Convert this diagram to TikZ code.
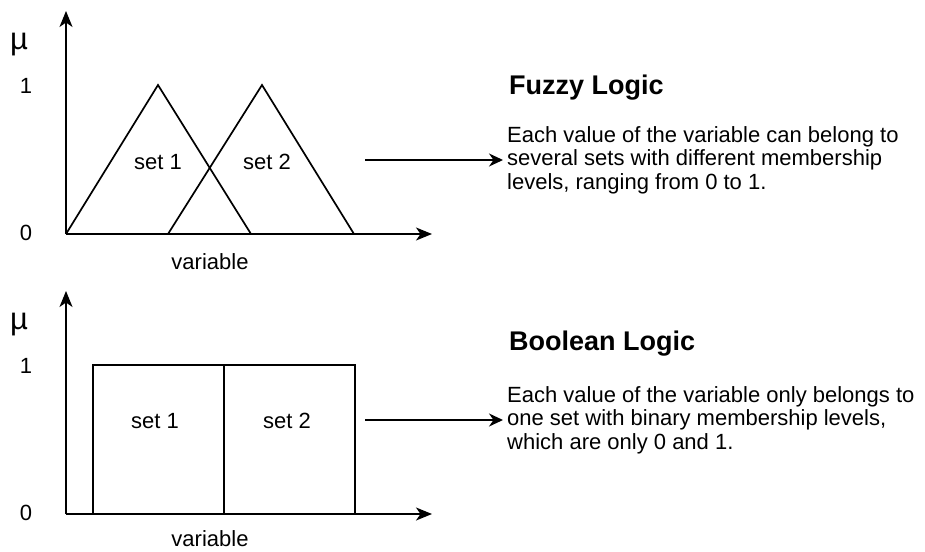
\documentclass[tikz,border=0pt]{standalone}
\usepackage{fontspec}
\setmainfont{Liberation Sans}
\usetikzlibrary{arrows.meta}
\tikzset{
  ln/.style={line width=1.7pt, line join=miter},
  axis/.style={ln, -{Stealth[length=16pt,width=13pt,inset=4.5pt]}},
  conn/.style={ln, -{Stealth[length=14pt,width=13pt,inset=4.5pt]}},
  lbl/.style={inner sep=0pt, font=\fontsize{22}{26}\selectfont},
  tick/.style={inner sep=0pt, font=\fontsize{22}{26}\selectfont},
  mu/.style={inner sep=0pt, font=\fontsize{31}{34}\selectfont},
  title/.style={inner sep=0pt, anchor=base west, font=\bfseries\fontsize{27}{31}\selectfont},
  desc/.style={inner ysep=0pt, inner xsep=4pt, anchor=west, align=left, font=\fontsize{22}{23.5}\selectfont}
}
\begin{document}
\begin{tikzpicture}[x=1pt,y=-1pt]
\useasboundingbox[fill=white] (0,0) rectangle (925,551);
% ---------- Fuzzy ----------
\coordinate (o1) at (66,234);
\coordinate (ytop1) at (66,11);
\coordinate (xend1) at (432,234);
\draw[axis] (o1) -- (ytop1);
\draw[axis] (o1) -- (xend1);
\coordinate (a1) at (66,234); \coordinate (p1) at (158,85); \coordinate (b1) at (251,234);
\coordinate (a2) at (168,234); \coordinate (p2) at (262,85); \coordinate (b2) at (354,234);
\draw[ln] (a1) -- (p1) -- (b1);
\draw[ln] (a2) -- (p2) -- (b2);
\node[lbl] (s1f) at (158,162) {set 1};
\node[lbl] (s2f) at (267,162) {set 2};
\node[mu] (muf) at (19,45) {µ};
\node[tick] (onef) at (26,86) {1};
\node[tick] (zerof) at (26,233) {0};
\node[lbl] (varf) at (210,262) {variable};
\node[title] (tf) at (509,94) {Fuzzy Logic};
\node[desc] (df) at (503,160) {Each value of the variable can belong to\\several sets with different membership\\levels, ranging from 0 to 1.};
\coordinate (cf) at (365,160);
\draw[conn] (cf) -- (df.west);
% ---------- Boolean ----------
\coordinate (o2) at (66,514);
\coordinate (ytop2) at (66,291);
\coordinate (xend2) at (432,514);
\draw[axis] (o2) -- (ytop2);
\draw[axis] (o2) -- (xend2);
\coordinate (r1a) at (93,514); \coordinate (r1b) at (224,365);
\coordinate (r2b) at (355,365);
\draw[ln] (r1a) rectangle (r1b);
\draw[ln] (r1b |- o2) rectangle (r2b);
\node[lbl] (s1b) at (155,421) {set 1};
\node[lbl] (s2b) at (287,421) {set 2};
\node[mu] (mub) at (19,325) {µ};
\node[tick] (oneb) at (26,366) {1};
\node[tick] (zerob) at (26,513) {0};
\node[lbl] (varb) at (210,539) {variable};
\node[title] (tb) at (509,350) {Boolean Logic};
\node[desc] (db) at (503,420) {Each value of the variable only belongs to\\one set with binary membership levels,\\which are only 0 and 1.};
\coordinate (cb) at (365,420);
\draw[conn] (cb) -- (db.west);
\end{tikzpicture}
\end{document}
